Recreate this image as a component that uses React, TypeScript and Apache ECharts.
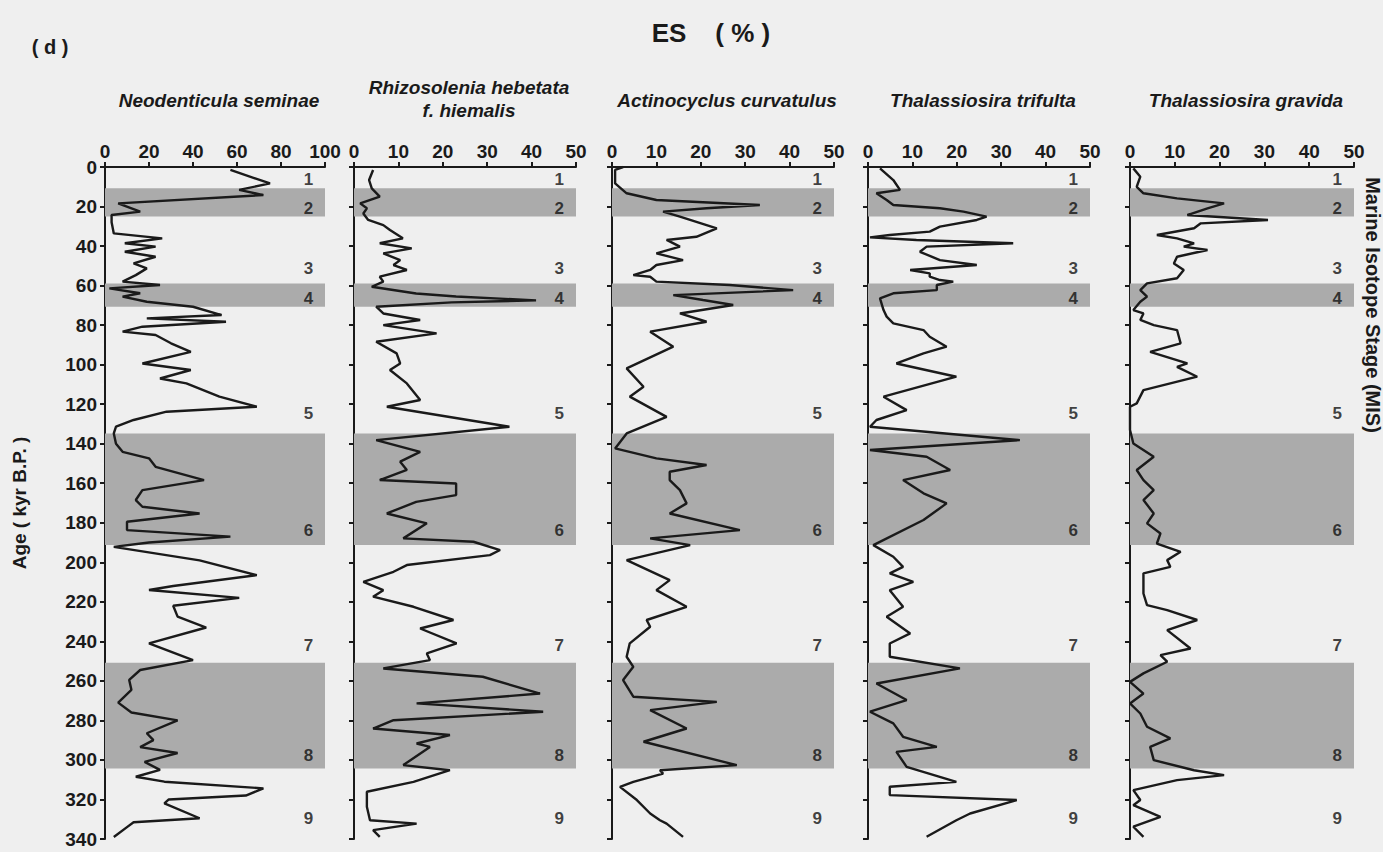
import React, { useEffect, useRef } from "react";
import * as echarts from "echarts";

// ---- data (age in kyr B.P., abundance in %) ----
const neoAge = [1.5, 8.3, 11.6, 14.2, 18.4, 22.6, 24.3, 28, 33.6, 36.1, 38.6, 40.3, 42.9, 45.4, 48.8, 51.3, 54.7, 58, 59.7, 61.4, 63.9, 65.6, 68.2, 70.7, 74.9, 76.6, 78.3, 80.8, 83.3, 85, 89.2, 93.5, 99.4, 102.7, 107, 109.5, 116.2, 121.3, 123.8, 128, 131.4, 134.8, 140, 144.1, 147.4, 151.7, 158.4, 163.5, 168.5, 171.9, 175.3, 179.5, 183.7, 187, 190, 192.2, 199, 206.5, 212, 214, 218, 222, 227.5, 233, 241, 249.5, 254.5, 259.5, 264.5, 271, 276, 280, 286.5, 290, 293.5, 296.5, 301, 305, 308.5, 311, 314.4, 318, 320, 322, 329.5, 331.5, 334, 339];
const neoPct = [57, 75, 61, 72, 6, 16, 3, 3, 4, 26, 9, 23, 9, 23, 13, 19, 14, 8, 25, 2, 16, 8, 19, 40, 53, 19, 55, 17, 8, 23, 30, 39, 17, 39, 25, 37, 52, 69, 28, 13, 5, 4, 5, 8, 20, 23, 45, 17, 14, 17, 43, 10, 10, 57, 20, 4, 43, 69, 31, 20, 61, 31, 33, 46, 20, 40, 16, 11, 12, 6, 12, 33, 19, 22, 16, 33, 18, 25, 14, 27, 72, 64, 29, 27, 43, 13, 10, 4];

const rhiAge = [1.5, 6.6, 10.8, 15, 18.4, 20.9, 23.5, 26.8, 29.4, 31.9, 36.1, 38.6, 41.2, 43.7, 47.1, 49.6, 52.1, 55.5, 58, 60.6, 64, 65.5, 67.5, 68.5, 70.7, 74.1, 77.4, 80, 84.2, 88.4, 94.3, 99.4, 102.7, 109.5, 117.9, 121.3, 131.4, 138.2, 144.1, 149.1, 153.3, 158.4, 160.1, 166, 169.4, 175.3, 180.3, 187.9, 189.6, 193.8, 196.4, 201.4, 204.8, 209.9, 214.1, 217.4, 222.5, 229.2, 233.5, 241, 246.1, 249.5, 253.7, 257.9, 266.4, 271.4, 275.6, 279.9, 284.1, 287.4, 291.7, 293.4, 302.6, 305.2, 311.1, 316.1, 323.7, 330.5, 332.2, 335.5, 338.9];
const rhiPct = [4.3, 3.4, 4, 5.8, 1.4, 2.9, 2.1, 3.2, 6.6, 8.1, 11, 5.8, 13, 6.6, 10.4, 8.9, 11.9, 5.8, 6.6, 4, 14, 23, 41, 22, 5, 6.6, 14.9, 6.6, 18.6, 5, 9.6, 10.4, 8.1, 11.9, 14.9, 7.4, 35, 5, 14.9, 10.4, 11.9, 5.8, 23, 23, 14, 7.4, 16.4, 11.1, 26.9, 32.9, 30.6, 11.9, 8.9, 2.1, 6.6, 4.3, 13.4, 22.4, 14.9, 23.1, 16.4, 17.1, 6.6, 29, 41.9, 14.1, 42.6, 8.9, 4.3, 21.6, 14.1, 17.1, 11.1, 21.6, 13.4, 2.9, 2.9, 3.6, 14.1, 4.3, 5.8];

const actAge = [0, 1.5, 8.3, 13.3, 16.7, 19.2, 20.9, 22.6, 25.1, 31, 35.3, 36.9, 40.3, 43.7, 47.1, 49.6, 52.1, 54.7, 55.5, 58, 59.7, 62.3, 64.8, 67.3, 69.8, 74.1, 78.3, 83.3, 90.9, 101.9, 111.2, 116.2, 126.4, 134.8, 142.4, 147.4, 150.8, 154.2, 158.4, 163.5, 170.2, 175.3, 183.7, 187.9, 191.3, 198.9, 209, 214.1, 222.5, 229.2, 232.6, 241, 247.8, 252.9, 259.6, 268, 270.6, 274.8, 284.1, 290.8, 302.6, 305.2, 306.9, 311.1, 313.6, 320.3, 327.1, 330.5, 332.2, 338.9];
const actPct = [2.5, 0.7, 0.7, 3.3, 10, 33.3, 21.3, 11.5, 15.3, 23.6, 19, 12.3, 15.3, 10, 16, 10, 8.6, 4.8, 8.6, 10, 26.5, 40.8, 13.8, 20.5, 27.3, 15.3, 21.3, 8.6, 13.8, 3.3, 7.1, 4, 12.3, 3.3, 0.7, 10, 21.3, 13, 13, 15.3, 16.8, 13, 28.8, 8.6, 17.6, 3.3, 13, 10, 16.8, 7.8, 8.6, 4, 3.3, 4.8, 2.5, 4.8, 23.6, 8.6, 16.8, 7.1, 28.1, 10.8, 11.5, 4.8, 1.8, 5.6, 8.6, 10.8, 12.3, 16];

const triAge = [0.7, 6.6, 11.6, 13.3, 16.7, 19.2, 20.9, 22.6, 25.1, 26.8, 30.2, 32.7, 34.4, 35.6, 36.9, 38.6, 40.3, 42.9, 47.1, 49.6, 52.1, 53.8, 55.5, 57.2, 58, 59.7, 62.3, 63.9, 66.5, 72.4, 75.7, 79.1, 82.5, 85.9, 90.9, 94.3, 99.4, 106.1, 116.2, 123, 128, 131.4, 138.2, 143.2, 146.6, 153.3, 158.4, 165.1, 170.2, 178.6, 191.3, 197.2, 202.3, 205.6, 209.9, 214.1, 222.5, 227.6, 236, 241.1, 247.8, 253.7, 261.3, 269.7, 275.6, 281.5, 288.3, 293.4, 295.9, 303.5, 311.1, 313.6, 317.8, 320.3, 327.1, 330.5, 338.9];
const triPct = [2.7, 5.7, 7.2, 1.9, 4.2, 5.7, 16.2, 21.5, 26.7, 24.5, 16.2, 13.9, 4.9, 0.45, 10.9, 32.7, 13.2, 11.7, 16.2, 24.5, 9.5, 13.9, 13.9, 16.2, 19.2, 15.5, 15.5, 5.7, 2.7, 3.5, 4.2, 5.7, 12.5, 13.9, 17.7, 12.5, 6.4, 19.9, 3.5, 8.7, 1.9, 0.45, 34.2, 0.45, 13.2, 18.5, 7.9, 12.5, 17.7, 12.5, 1.2, 5.7, 7.9, 4.9, 10.2, 4.9, 7.9, 4.2, 9.5, 4.9, 4.9, 20.7, 1.9, 8.7, 0.45, 5.7, 7.9, 15.5, 6.4, 8.7, 19.9, 4.9, 4.9, 33.5, 23, 19.9, 13.2];

const graAge = [0.7, 4.9, 10, 13.3, 15.9, 18.4, 20.9, 24.3, 26.8, 28.5, 31, 34.4, 36.1, 38.6, 40.3, 42, 45.4, 48.8, 52.1, 56.3, 58.9, 62.3, 65.6, 68.2, 72.4, 74.1, 77.4, 80, 82.5, 89.2, 93.5, 99.4, 101.1, 106.1, 112.9, 119.6, 121.3, 133.1, 139.9, 146.6, 153.3, 158.4, 163.5, 168.5, 175.3, 180.3, 185.4, 190.5, 194.7, 198.9, 202.3, 205.6, 215.8, 221.7, 224.2, 229.2, 234.3, 243.6, 247, 250.3, 256.2, 260.5, 266.4, 271.4, 276.5, 283.2, 289.1, 293.4, 300.1, 305.2, 307.7, 310.2, 315.3, 320.3, 322.9, 328.8, 333.8, 338.9];
const graPct = [0.75, 2.3, 1.5, 3, 10.5, 21, 17.3, 12.8, 30.8, 15.8, 14.3, 6, 10.5, 14.3, 12, 17.3, 10.5, 9.8, 12, 10.5, 3.8, 2.3, 3.8, 2.3, 0.75, 3, 2.3, 5.3, 10.5, 11.3, 4.5, 12.8, 10.5, 15, 3, 1.5, 0, 0, 0.75, 5.3, 1.5, 3, 5.3, 3, 5.3, 3.8, 6.8, 6, 11.3, 8.3, 9, 3, 3, 3.8, 8.3, 15, 8.3, 13.5, 6.8, 8.3, 3, 0, 3, 0, 2.3, 3.8, 9, 4.5, 5.3, 14.3, 21, 10.5, 0.75, 2.3, 0.75, 6.8, 0.75, 3];

const speciesTitles = ["Neodenticula seminae", "Rhizosolenia hebetata\nf. hiemalis", "Actinocyclus curvatulus", "Thalassiosira trifulta", "Thalassiosira gravida"];
const xMax = [100, 50, 50, 50, 50];
const xInterval = [20, 10, 10, 10, 10];
const ageMin = 0;
const ageMax = 340;
const ageInterval = 20;
const misBands = [[10.8, 25.1], [58.9, 70.7], [134.8, 191.3], [250.8, 304.3]];
const misNames = ["1", "2", "3", "4", "5", "6", "7", "8", "9"];
const misAges = [6.2, 20.9, 51.3, 66.5, 124.7, 183.7, 241.9, 297.6, 329.6];

const seriesAges = [neoAge, rhiAge, actAge, triAge, graAge];
const seriesPcts = [neoPct, rhiPct, actPct, triPct, graPct];

const FONT = "'Liberation Sans', Arial, Helvetica, sans-serif";
const INK = "#1a1a1a";

export default function App() {
  const ref = useRef<HTMLDivElement>(null);
  useEffect(() => {
    if (!ref.current) return;
    const chart = echarts.init(ref.current, undefined, { renderer: "svg" });
    const lefts = [105, 354, 612, 868, 1130];
    const widths = [220, 222, 222, 222, 224];
    const top = 167;
    const height = 672;
    const titleY = [100, 99, 100, 100, 100];

    const grids = lefts.map((l, i) => ({ left: l, top, width: widths[i], height }));
    const xAxes = lefts.map((_, i) => ({
      type: "value",
      gridIndex: i,
      position: "top",
      min: 0,
      max: xMax[i],
      interval: xInterval[i],
      axisLine: { show: true, lineStyle: { color: INK, width: 2 } },
      axisTick: { show: true, length: 5, lineStyle: { color: INK, width: 2 } },
      axisLabel: { color: INK, fontFamily: FONT, fontWeight: "bold", fontSize: 19, margin: 6 },
      splitLine: { show: false },
    }));
    const yAxes = lefts.map((_, i) => ({
      type: "value",
      gridIndex: i,
      inverse: true,
      min: ageMin,
      max: ageMax,
      interval: ageInterval,
      name: i === 0 ? "Age ( kyr B.P. )" : "",
      nameLocation: "middle",
      nameGap: 76,
      nameRotate: 90,
      nameTextStyle: { color: INK, fontFamily: FONT, fontWeight: "bold", fontSize: 19 },
      axisLine: { show: true, lineStyle: { color: INK, width: 2 } },
      axisTick: { show: true, length: 5, lineStyle: { color: INK, width: 2 } },
      axisLabel: { show: i === 0, color: INK, fontFamily: FONT, fontWeight: "bold", fontSize: 19, margin: 8 },
      splitLine: { show: false },
    }));

    const series: any[] = [];
    seriesAges.forEach((ages, i) => {
      series.push({
        type: "line",
        xAxisIndex: i,
        yAxisIndex: i,
        data: ages.map((a, k) => [seriesPcts[i][k], a]),
        showSymbol: false,
        symbol: "none",
        lineStyle: { color: INK, width: 2.4 },
        z: 3,
        markArea: {
          silent: true,
          itemStyle: { color: "#ababab", opacity: 1 },
          data: misBands.map((b) => [{ yAxis: b[0] }, { yAxis: b[1] }]),
        },
      });
      series.push({
        type: "scatter",
        xAxisIndex: i,
        yAxisIndex: i,
        symbolSize: 0,
        z: 4,
        data: misNames.map((n, k) => ({ name: n, value: [xMax[i] * 0.925, misAges[k]] })),
        label: {
          show: true,
          position: "inside",
          formatter: (p: any) => p.name,
          color: "#111",
          fontFamily: FONT,
          fontWeight: "bold",
          fontSize: 17,
        },
      });
    });

    const graphic: any[] = [
      { type: "text", x: 50, y: 47, style: { text: "( d )", fill: INK, fontFamily: FONT, fontWeight: "bold", fontSize: 20, textAlign: "center", textVerticalAlign: "middle" } },
      { type: "text", x: 711, y: 33, style: { text: "ES    ( % )", fill: INK, fontFamily: FONT, fontWeight: "bold", fontSize: 26, textAlign: "center", textVerticalAlign: "middle" } },
      { type: "text", x: 1373, y: 305, rotation: -Math.PI / 2, style: { text: "Marine Isotope Stage (MIS)", fill: INK, fontFamily: FONT, fontWeight: "bold", fontSize: 20, textAlign: "center", textVerticalAlign: "middle" } },
    ];
    speciesTitles.forEach((t, i) => {
      graphic.push({
        type: "text",
        x: lefts[i] + widths[i] / 2 + 4,
        y: titleY[i],
        style: { text: t, fill: INK, fontFamily: FONT, fontWeight: "bold", fontStyle: "italic", fontSize: 19, textAlign: "center", textVerticalAlign: "middle", lineHeight: 23 },
      });
    });

    chart.setOption({
      animation: false,
      backgroundColor: "#efefef",
      grid: grids,
      xAxis: xAxes,
      yAxis: yAxes,
      series,
      graphic,
    });
    return () => chart.dispose();
  }, []);
  return <div ref={ref} style={{ position: "absolute", left: 0, top: 0, width: 1383, height: 852 }} />;
}
